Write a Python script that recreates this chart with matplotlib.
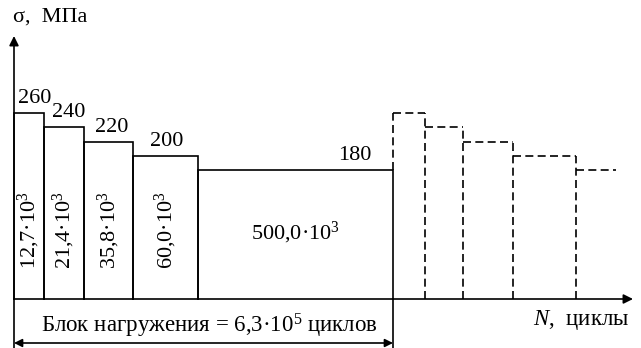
import matplotlib.pyplot as plt

plt.rcParams.update({
    'font.family': 'Liberation Serif',
    'mathtext.fontset': 'custom',
    'mathtext.rm': 'Liberation Serif',
    'mathtext.it': 'Liberation Serif:italic',
    'font.size': 16,
})

# Блок нагружения: напряжения (МПа) и числа циклов
sigma = [260, 240, 220, 200, 180]
cycles_labels = ['12,7·10$^3$', '21,4·10$^3$', '35,8·10$^3$', '60,0·10$^3$', '500,0·10$^3$']
# ширины ступеней на схеме (не в масштабе)
widths = [30, 40, 49, 65, 195]
widths_next = [32, 38, 50, 63, 40]

x0 = 14
k = 0.715  # px per МПа
fig = plt.figure(figsize=(6.41, 3.48), dpi=100)
ax = fig.add_axes([0, 0, 1, 1])
ax.set_xlim(0, 641)
ax.set_ylim((299 - 348) / k, 299 / k)
ax.axis('off')

lw = 1.2
# первый блок
x = x0
edges = [x0]
for s, w in zip(sigma, widths):
    ax.plot([x, x, x + w, x + w], [0, s, s, 0], color='black', lw=lw, solid_joinstyle='miter')
    x += w
    edges.append(x)
x_end = x

# подписи напряжений
offs = [(4, 5), (8, 5), (11, 5), (17, 5), (140, 5)]
for i, s in enumerate(sigma):
    dx, dy = offs[i]
    ax.text(edges[i] + dx, s + dy / k, str(s), ha='left', va='bottom', fontsize=16)

# подписи числа циклов
for i in range(4):
    xc = (edges[i] + edges[i + 1]) / 2
    ax.text(xc, 96, cycles_labels[i], rotation=90, ha='center', va='center', fontsize=16)
ax.text((edges[4] + edges[5]) / 2, 92, cycles_labels[4], ha='center', va='center', fontsize=16)

# следующий блок (пунктир)
dash = (0, (4.8, 2.6))
x = x_end
prev = sigma[-1]
for j, (s, w) in enumerate(zip(sigma, widths_next)):
    lo = prev if j == 0 else 0
    ax.plot([x, x], [lo, max(prev, s)], color='black', lw=lw, ls=dash)
    ax.plot([x, x + w], [s, s], color='black', lw=lw, ls=dash)
    prev = s
    x += w

# оси
ybot = (299 - 348) / k
ax.plot([x0, x0], [ybot, 0], color='black', lw=lw)
ax.plot([x_end, x_end], [ybot, 0], color='black', lw=lw)
ax.annotate('', xy=(x0, (299 - 36) / k), xytext=(x0, 0),
            arrowprops=dict(arrowstyle='-|>', color='black', lw=lw, mutation_scale=14, shrinkA=0, shrinkB=0))
ax.annotate('', xy=(633, 0), xytext=(x0, 0),
            arrowprops=dict(arrowstyle='-|>', color='black', lw=lw, mutation_scale=14, shrinkA=0, shrinkB=0))
yarr = (299 - 343) / k
ax.annotate('', xy=(x0, yarr), xytext=(x_end, yarr),
            arrowprops=dict(arrowstyle='<|-|>', color='black', lw=lw, mutation_scale=12, shrinkA=0, shrinkB=0))

ax.text(13, (299 - 17) / k, 'σ,  МПа', ha='left', va='center', fontsize=16)
ax.text(629, (299 - 320) / k, '$N$,  циклы', ha='right', va='center', fontsize=16.5)
ax.text((x0 + x_end) / 2 + 6, (299 - 326) / k, 'Блок нагружения = 6,3·10$^5$ циклов',
        ha='center', va='center', fontsize=16.5)

fig.savefig('out.png', dpi=100)
